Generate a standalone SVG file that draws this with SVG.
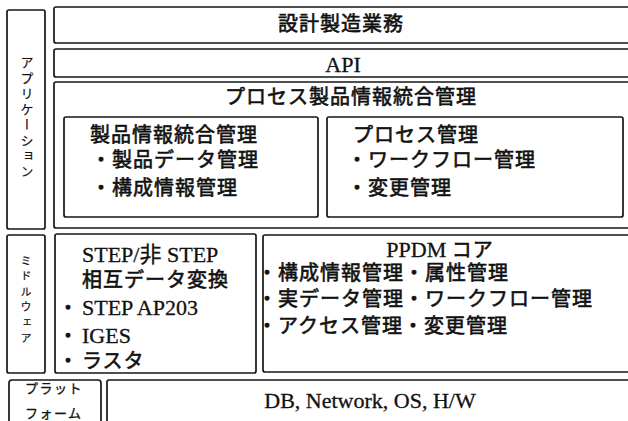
<svg xmlns="http://www.w3.org/2000/svg" width="628" height="421" viewBox="0 0 628 421">
<style>
.box{fill:#fff;stroke:#161616;stroke-width:1.7}
.jp{font-family:"Noto Sans CJK JP","Liberation Sans",sans-serif;font-size:20px;fill:#111;stroke:#111;stroke-width:0.6px;letter-spacing:1px}
.ser{font-family:"Liberation Serif","Noto Sans CJK JP",serif;font-size:22px;fill:#111;stroke:#111;stroke-width:0.3px}
.vt{font-family:"Noto Sans CJK JP",sans-serif;fill:#111;stroke:#111;stroke-width:0.2px;writing-mode:vertical-rl}
.sm{font-family:"Noto Sans CJK JP",sans-serif;font-size:13px;fill:#111;stroke:#111;stroke-width:0.3px;letter-spacing:1.5px}
</style>
<rect width="628" height="421" fill="#fff"/>
<g id="layer-app">
<rect class="box" x="7" y="10" width="38" height="219" rx="2"/>
<text class="vt" x="27" y="56" font-size="13" letter-spacing="2.5">アプリケーション</text>
</g>
<g id="layer-middleware">
<rect class="box" x="7" y="235" width="38" height="138" rx="2"/>
<text class="vt" x="26" y="255" font-size="11" letter-spacing="4.5">ミドルウェア</text>
</g>
<g id="layer-platform">
<rect class="box" x="9" y="380" width="92" height="50" rx="3"/>
<text class="sm" x="25" y="393">プラット</text>
<text class="sm" x="25" y="418">フォーム</text>
</g>
<g id="node-design">
<rect class="box" x="54" y="7" width="590" height="36" rx="2"/>
<text class="jp" x="341" y="31" text-anchor="middle" font-size="19" letter-spacing="0.5">設計製造業務</text>
</g>
<g id="node-api">
<rect class="box" x="54" y="49" width="590" height="28" rx="2"/>
<text class="ser" x="343" y="72" text-anchor="middle">API</text>
</g>
<g id="node-process-product">
<rect class="box" x="54" y="82" width="590" height="146" rx="2"/>
<text class="jp" x="351" y="104" text-anchor="middle" letter-spacing="0.2">プロセス製品情報統合管理</text>
</g>
<g id="node-product-info">
<rect class="box" x="64" y="117" width="254" height="100" rx="2"/>
<text class="jp" x="90" y="142">製品情報統合管理</text>
<text class="jp" x="91" y="167">・製品データ管理</text>
<text class="jp" x="91" y="195">・構成情報管理</text>
</g>
<g id="node-process-mgmt">
<rect class="box" x="327" y="117" width="296" height="100" rx="2"/>
<text class="jp" x="353" y="142">プロセス管理</text>
<text class="jp" x="347" y="167">・ワークフロー管理</text>
<text class="jp" x="347" y="195">・変更管理</text>
</g>
<g id="node-step">
<rect class="box" x="55" y="234" width="201" height="139" rx="2"/>
<text class="ser" x="82" y="262">STEP/非 STEP</text>
<text class="jp" x="82" y="287">相互データ変換</text>
<text class="ser" y="315"><tspan class="jp" x="58">・</tspan><tspan x="82">STEP AP203</tspan></text>
<text class="ser" y="343"><tspan class="jp" x="58">・</tspan><tspan x="82">IGES</tspan></text>
<text class="jp" y="368"><tspan x="58">・</tspan><tspan x="82">ラスタ</tspan></text>
</g>
<g id="node-ppdm">
<rect class="box" x="263" y="235" width="381" height="137" rx="2"/>
<text class="ser" x="440" y="257" text-anchor="middle">PPDM <tspan class="jp">コア</tspan></text>
<text class="jp" x="257" y="280" letter-spacing="2">・構成情報管理・属性管理</text>
<text class="jp" x="257" y="306" letter-spacing="2">・実データ管理・ワークフロー管理</text>
<text class="jp" x="257" y="333" letter-spacing="2">・アクセス管理・変更管理</text>
</g>
<g id="node-db">
<rect class="box" x="107" y="380" width="537" height="50" rx="2"/>
<text class="ser" x="370" y="408" text-anchor="middle">DB, Network, OS, H/W</text>
</g>
<g id="connectors"></g>
</svg>
